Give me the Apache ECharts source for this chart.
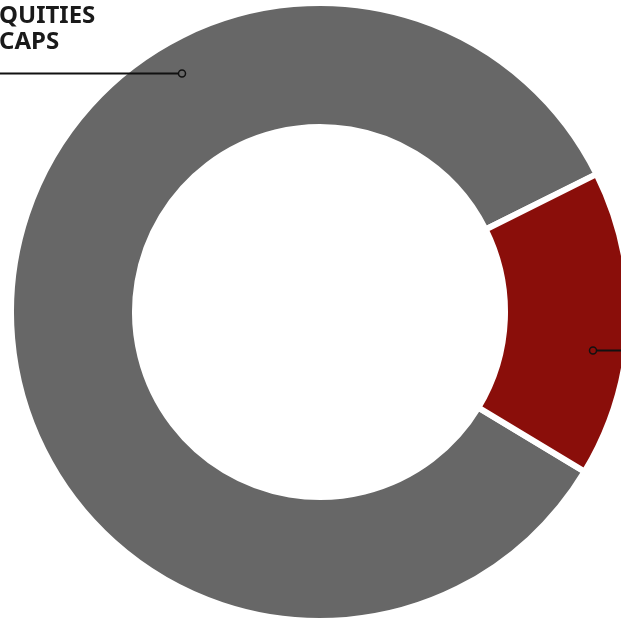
<!DOCTYPE html>
<html>
<head>
<meta charset="utf-8">
<script src="https://cdn.jsdelivr.net/npm/echarts@6/dist/echarts.min.js"></script>
<style>
  html, body { margin: 0; padding: 0; background: #fff; }
  #donut { width: 621px; height: 623px; }
</style>
</head>
<body>
<div id="donut"></div>
<script>
// slice data
const categories = ['QUITIES\nCAPS', 'Other'];
const values = [84, 16];
const colors = ['#676767', '#8a0e0a'];

// callouts: angle (deg, ccw from east) of the small ring marker on each slice
const calloutAngles = [120, -8];
const calloutSide = ['left', 'right'];

const CENTER = [320, 312];
const RADIUS = [185, 309];
const MARK_R = 276;

const chart = echarts.init(document.getElementById('donut'));

function calloutGraphics() {
    const els = [];
    calloutAngles.forEach((a, i) => {
        const rad = a * Math.PI / 180;
        const px = Math.round(CENTER[0] + MARK_R * Math.cos(rad));
        const py = Math.round(CENTER[1] - MARK_R * Math.sin(rad)) + 0.5;
        const endX = calloutSide[i] === 'left' ? -10 : 640;
        const startX = calloutSide[i] === 'left' ? px - 3.5 : px + 3.5;
        els.push({
            type: 'line',
            shape: { x1: startX, y1: py, x2: endX, y2: py },
            style: { stroke: '#111', lineWidth: 2 },
            z: 10
        });
        els.push({
            type: 'circle',
            shape: { cx: px, cy: py, r: 3.5 },
            style: { fill: 'none', stroke: '#111', lineWidth: 1.5 },
            z: 10
        });
        if (calloutSide[i] === 'left') {
            els.push({
                type: 'text',
                x: -1,
                y: 3,
                style: {
                    text: categories[i],
                    fontFamily: 'Noto Sans',
                    fontWeight: 'bold',
                    fontSize: 24,
                    fill: '#1a1a1a',
                    lineHeight: 26,
                    align: 'left',
                    verticalAlign: 'top'
                },
                z: 10
            });
        }
    });
    return els;
}

chart.setOption({
    animation: false,
    backgroundColor: '#fff',
    series: [{
        type: 'pie',
        center: CENTER,
        radius: RADIUS,
        startAngle: 26.5,
        clockwise: false,
        avoidLabelOverlap: false,
        label: { show: false },
        labelLine: { show: false },
        itemStyle: { borderColor: '#fff', borderWidth: 6 },
        emphasis: { disabled: true },
        data: categories.map((c, i) => ({
            name: c,
            value: values[i],
            itemStyle: { color: colors[i] }
        }))
    }],
    graphic: calloutGraphics()
});
</script>
</body>
</html>
